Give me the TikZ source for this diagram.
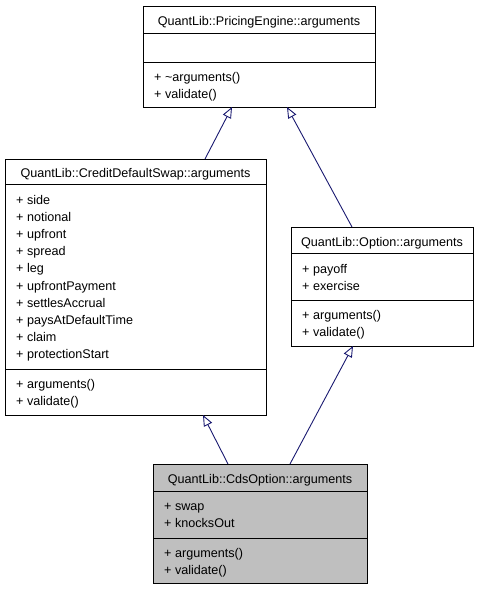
\documentclass[tikz,border=0pt]{standalone}
\usepackage{fontspec}
\setmainfont{Liberation Sans}
\usetikzlibrary{arrows.meta,calc}
\definecolor{edgecol}{HTML}{191970}
\definecolor{hilite}{HTML}{BFBFBF}
\begin{document}
\begin{tikzpicture}[x=1pt,y=-1pt,
  umlbox/.style={draw=black, line width=0.9pt, rectangle, inner sep=0pt, outer sep=0pt, anchor=north west},
  sep/.style={draw=black, line width=0.9pt},
  mem/.style={anchor=base west, inner sep=0pt, font=\fontsize{12.6}{15}\selectfont},
  ttl/.style={anchor=base, inner sep=0pt, font=\fontsize{12.6}{15}\selectfont},
  inh/.style={draw=edgecol, line width=0.9pt, {Triangle[open,length=11pt,width=9pt,line width=0.9pt]}-}]
\useasboundingbox (0,0) rectangle (485,589);

% A: PricingEngine::arguments
\node[umlbox, minimum width=232pt, minimum height=101pt] (A) at (143,6) {};
\draw[sep] (143,33) -- (375,33);
\draw[sep] (143,62) -- (375,62);
\node[ttl] (At) at (259,25) {QuantLib::PricingEngine::arguments};
\node[mem] (Am1) at (154,81) {+ \char"7E arguments()};
\node[mem] (Am2) at (154,98) {+ validate()};

% B: CreditDefaultSwap::arguments
\node[umlbox, minimum width=261pt, minimum height=256pt] (B) at (5,159) {};
\draw[sep] (5,184) -- (266,184);
\draw[sep] (5,369) -- (266,369);
\node[ttl] (Bt) at (135.5,177) {QuantLib::CreditDefaultSwap::arguments};
\node[mem] (Ba1) at (16,204) {+ side};
\node[mem] (Ba2) at (16,221.2) {+ notional};
\node[mem] (Ba3) at (16,238.4) {+ upfront};
\node[mem] (Ba4) at (16,255.6) {+ spread};
\node[mem] (Ba5) at (16,272.8) {+ leg};
\node[mem] (Ba6) at (16,290) {+ upfrontPayment};
\node[mem] (Ba7) at (16,307.2) {+ settlesAccrual};
\node[mem] (Ba8) at (16,324.4) {+ paysAtDefaultTime};
\node[mem] (Ba9) at (16,341.6) {+ claim};
\node[mem] (Ba10) at (16,358.8) {+ protectionStart};
\node[mem] (Bm1) at (16,388) {+ arguments()};
\node[mem] (Bm2) at (16,405) {+ validate()};

% C: Option::arguments
\node[umlbox, minimum width=182pt, minimum height=119pt] (C) at (291,227) {};
\draw[sep] (291,253) -- (473,253);
\draw[sep] (291,300) -- (473,300);
\node[ttl] (Ct) at (382,246) {QuantLib::Option::arguments};
\node[mem] (Ca1) at (302,273) {+ payoff};
\node[mem] (Ca2) at (302,290) {+ exercise};
\node[mem] (Cm1) at (302,319) {+ arguments()};
\node[mem] (Cm2) at (302,336) {+ validate()};

% D: CdsOption::arguments
\node[umlbox, fill=hilite, minimum width=214pt, minimum height=119pt] (D) at (153,464) {};
\draw[sep] (153,491.5) -- (367,491.5);
\draw[sep] (153,538) -- (367,538);
\node[ttl] (Dt) at (260,483) {QuantLib::CdsOption::arguments};
\node[mem] (Da1) at (164,510) {+ swap};
\node[mem] (Da2) at (164,527) {+ knocksOut};
\node[mem] (Dm1) at (164,557) {+ arguments()};
\node[mem] (Dm2) at (164,574) {+ validate()};

% inheritance connectors
\draw[inh] ([xshift=89pt]A.south west) -- ([xshift=200pt]B.north west);
\draw[inh] ([xshift=144pt]A.south west) -- ([xshift=61pt]C.north west);
\draw[inh] ([xshift=198pt]B.south west) -- ([xshift=75pt]D.north west);
\draw[inh] ([xshift=62pt]C.south west) -- ([xshift=137pt]D.north west);
\end{tikzpicture}
\end{document}
